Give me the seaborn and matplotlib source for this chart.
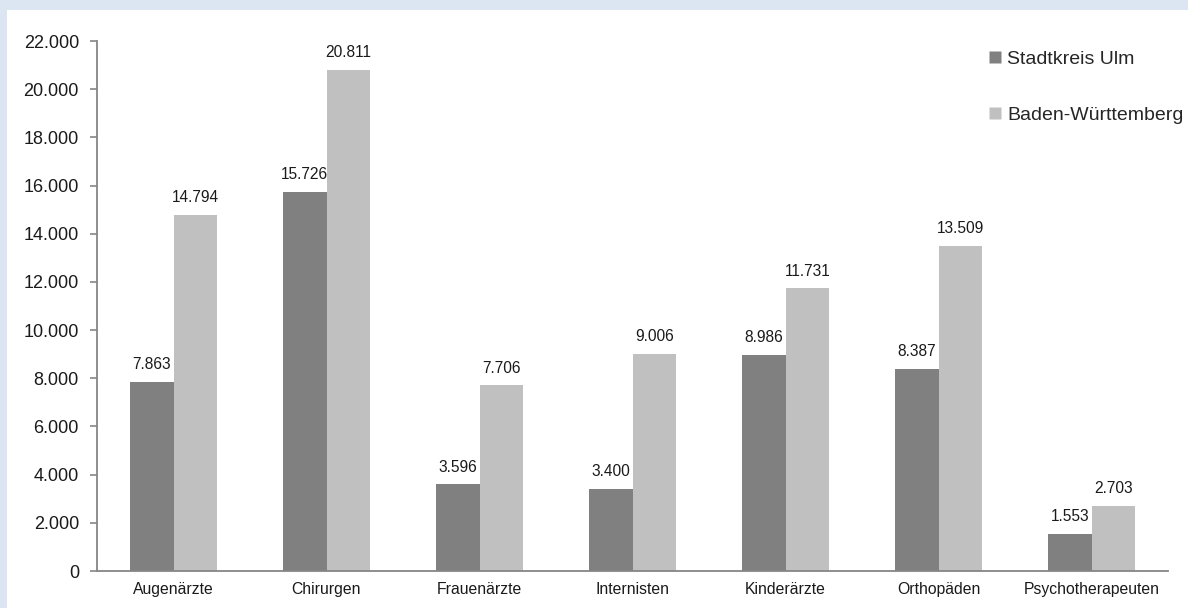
import numpy as np
import pandas as pd
import matplotlib
matplotlib.use("Agg")
import matplotlib.pyplot as plt
import seaborn as sns
from matplotlib.lines import Line2D
from matplotlib.patches import Rectangle

categories = ["Augenärzte", "Chirurgen", "Frauenärzte", "Internisten",
              "Kinderärzte", "Orthopäden", "Psychotherapeuten"]
ulm = [7863, 15726, 3596, 3400, 8986, 8387, 1553]
bw = [14794, 20811, 7706, 9006, 11731, 13509, 2703]
series = ["Stadtkreis Ulm", "Baden-Württemberg"]
colors = ["#808080", "#c0c0c0"]
yticks = list(range(0, 22001, 2000))

df = pd.DataFrame({
    "Kategorie": categories * 2,
    "Wert": ulm + bw,
    "Reihe": [series[0]] * len(categories) + [series[1]] * len(categories),
})

sns.set_theme(style="white")
plt.rcParams["font.family"] = ["Liberation Sans", "DejaVu Sans"]

fig = plt.figure(figsize=(11.88, 6.08), dpi=100)
fig.patch.set_facecolor("#dce6f2")
fig.patches.append(Rectangle((7 / 1188, 0), 1, 1 - 10 / 608, transform=fig.transFigure,
                             facecolor="white", edgecolor="none", zorder=-10))

ax = fig.add_axes([97 / 1188, 1 - 571 / 608, (1168 - 97) / 1188, (571 - 41) / 608])
ax.set_zorder(1)
ax.set_facecolor("none")
sns.barplot(data=df, x="Kategorie", y="Wert", hue="Reihe", palette=colors,
            width=0.57, ax=ax, legend=False, saturation=1, linewidth=0)

def fmt(v):
    return f"{v:,.0f}".replace(",", ".")

for cont in ax.containers:
    for bar in cont:
        h = bar.get_height()
        ax.annotate(fmt(h), (bar.get_x() + bar.get_width() / 2, h),
                    xytext=(0, 7), textcoords="offset points",
                    ha="center", va="bottom", fontsize=11.2, color="#1a1a1a")

ax.set_ylim(0, 22000)
ax.set_xlim(-0.5, len(categories) - 0.5)
ax.set_yticks(yticks)
ax.set_yticklabels([fmt(v) for v in yticks], fontsize=13, color="#1a1a1a")
ax.set_xticks(range(len(categories)))
ax.set_xticklabels(categories, fontsize=11.3, color="#1a1a1a")
ax.set_xticks(np.arange(-0.5, len(categories), 1.0), minor=True)
ax.tick_params(axis="x", which="major", length=0, pad=8)
ax.tick_params(axis="x", which="minor", length=5, color="#868686", width=1.2, direction="out")
ax.tick_params(axis="y", length=5, color="#868686", width=1.2, direction="out", left=True, pad=8)
ax.set_xlabel("")
ax.set_ylabel("")
for s in ["top", "right"]:
    ax.spines[s].set_visible(False)
for s in ["left", "bottom"]:
    ax.spines[s].set_color("#868686")
    ax.spines[s].set_linewidth(1.3)

handles = [Line2D([], [], marker="s", linestyle="none", markersize=8.5,
                  markerfacecolor=c, markeredgecolor="none") for c in colors]
fig.legend(handles, series, loc="upper left", bbox_to_anchor=(985 / 1188, 1 - 50 / 608),
           frameon=False, fontsize=14, handletextpad=0.15, labelspacing=2.0,
           handlelength=1.0, borderaxespad=0, borderpad=0)

fig.savefig("out.png", dpi=100)
